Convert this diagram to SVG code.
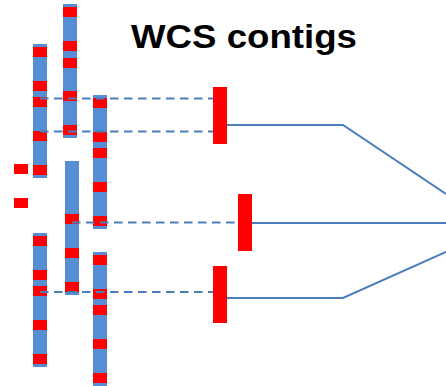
<svg xmlns="http://www.w3.org/2000/svg" width="446" height="386" viewBox="0 0 446 386">
  <style>
    .contig { fill: #558ED5; }
    .mark { fill: #FF0000; }
    .dash { stroke: #4A7EBB; stroke-width: 2; stroke-dasharray: 8.5 5.5; fill: none; }
    .link { stroke: #4A7EBB; stroke-width: 2; fill: none; stroke-linejoin: miter; }
    .title { font-family: "Liberation Sans", Arial, sans-serif; font-weight: bold; font-size: 33px; fill: #000; }
  </style>

  <rect width="446" height="386" fill="#FFFFFF"/>

  <g id="title">
    <text class="title" x="131" y="48" textLength="226" lengthAdjust="spacingAndGlyphs">WCS contigs</text>
  </g>

  <!-- contigs: blue bars with red marker bands -->
  <g id="contig-1a">
    <rect class="contig" x="33" y="44" width="14" height="134"/>
    <rect class="mark" x="33" y="47" width="14" height="10"/>
    <rect class="mark" x="33" y="81" width="14" height="10"/>
    <rect class="mark" x="33" y="97" width="14" height="10"/>
    <rect class="mark" x="33" y="131" width="14" height="10"/>
    <rect class="mark" x="33" y="165" width="14" height="10"/>
  </g>
  <g id="contig-1b">
    <rect class="contig" x="33" y="233" width="14" height="134"/>
    <rect class="mark" x="33" y="236" width="14" height="10"/>
    <rect class="mark" x="33" y="270" width="14" height="10"/>
    <rect class="mark" x="33" y="286" width="14" height="10"/>
    <rect class="mark" x="33" y="320" width="14" height="10"/>
    <rect class="mark" x="33" y="354" width="14" height="10"/>
  </g>
  <g id="contig-2a">
    <rect class="contig" x="63" y="4" width="14" height="134"/>
    <rect class="mark" x="63" y="7" width="14" height="10"/>
    <rect class="mark" x="63" y="41" width="14" height="10"/>
    <rect class="mark" x="63" y="58" width="14" height="10"/>
    <rect class="mark" x="63" y="91" width="14" height="10"/>
    <rect class="mark" x="63" y="125" width="14" height="10"/>
  </g>
  <g id="contig-2b">
    <rect class="contig" x="65" y="161" width="14" height="134"/>
    <rect class="mark" x="65" y="214" width="14" height="10"/>
    <rect class="mark" x="65" y="248" width="14" height="10"/>
    <rect class="mark" x="65" y="282" width="14" height="10"/>
  </g>
  <g id="contig-3a">
    <rect class="contig" x="93" y="95" width="14" height="134"/>
    <rect class="mark" x="93" y="98" width="14" height="10"/>
    <rect class="mark" x="93" y="132" width="14" height="10"/>
    <rect class="mark" x="93" y="148" width="14" height="10"/>
    <rect class="mark" x="93" y="182" width="14" height="10"/>
    <rect class="mark" x="93" y="216" width="14" height="10"/>
  </g>
  <g id="contig-3b">
    <rect class="contig" x="93" y="252" width="14" height="134"/>
    <rect class="mark" x="93" y="255" width="14" height="10"/>
    <rect class="mark" x="93" y="289" width="14" height="10"/>
    <rect class="mark" x="93" y="305" width="14" height="10"/>
    <rect class="mark" x="93" y="339" width="14" height="10"/>
    <rect class="mark" x="93" y="373" width="14" height="10"/>
  </g>
  <g id="loose-markers">
    <rect class="mark" x="14" y="164" width="14" height="10"/>
    <rect class="mark" x="14" y="198" width="14" height="10"/>
  </g>

  <!-- connectors -->
  <g id="connectors">
    <line class="dash" x1="40" y1="98.5" x2="213" y2="98.5"/>
    <line class="dash" x1="40" y1="131.5" x2="213" y2="131.5"/>
    <line class="dash" x1="72" y1="222.5" x2="238" y2="222.5"/>
    <line class="dash" x1="40" y1="292" x2="213" y2="292"/>
    <polyline class="link" points="227,125 343,125 446,194"/>
    <line class="link" x1="252" y1="223" x2="446" y2="223"/>
    <polyline class="link" points="227,298 343,298 446,252"/>
  </g>

  <!-- assembled blocks -->
  <g id="block-1">
    <rect class="mark" x="213" y="87" width="14" height="57"/>
  </g>
  <g id="block-2">
    <rect class="mark" x="238" y="194" width="14" height="57"/>
  </g>
  <g id="block-3">
    <rect class="mark" x="213" y="266" width="14" height="57"/>
  </g>
</svg>
